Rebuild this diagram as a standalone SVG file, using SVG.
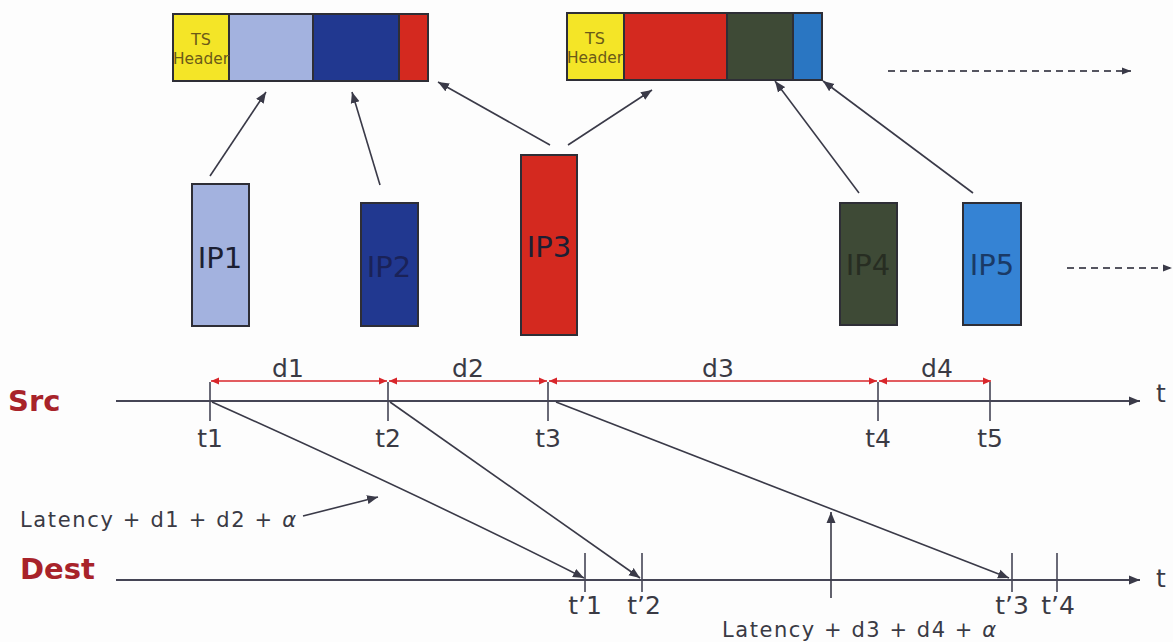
<svg xmlns="http://www.w3.org/2000/svg" width="1173" height="642" viewBox="0 0 1173 642">
<defs>
<marker id="arr" markerUnits="userSpaceOnUse" markerWidth="12" markerHeight="10" refX="11" refY="5" orient="auto">
<path d="M0,0.5 L11,5 L0,9.5 z" fill="#3a3a48"/>
</marker>
<marker id="arrs" markerUnits="userSpaceOnUse" markerWidth="10" markerHeight="8" refX="9" refY="4" orient="auto">
<path d="M0,0.5 L9,4 L0,7.5 z" fill="#3a3a48"/>
</marker>
<marker id="red" markerUnits="userSpaceOnUse" markerWidth="9" markerHeight="8" refX="8" refY="4" orient="auto-start-reverse">
<path d="M0,0.5 L8,4 L0,7.5 z" fill="#d8262b"/>
</marker>
</defs>
<style>
.bx{stroke:#2e2e36;stroke-width:2}
.ip{font-family:"DejaVu Sans",Verdana,sans-serif;font-size:29px;fill:#1c1f33;text-anchor:middle}
.ts{font-family:"DejaVu Sans",Verdana,sans-serif;font-size:16px;fill:#6b5a18;text-anchor:middle}
.ln{stroke:#3a3a48;stroke-width:1.6;fill:none}
.ax{stroke:#454555;stroke-width:1.8;fill:none}
.tk{stroke:#454555;stroke-width:1.6}
.dim{stroke:#d8262b;stroke-width:1.6;fill:none}
.lb{font-family:"DejaVu Sans",Verdana,sans-serif;font-size:25px;fill:#3a3a44;text-anchor:middle}
.sd{font-family:"DejaVu Sans",Verdana,sans-serif;font-size:29px;font-weight:bold;fill:#a8232a}
.lat{font-family:"DejaVu Sans",Verdana,sans-serif;font-size:21px;fill:#3a3a44}
.dash{stroke:#555560;stroke-width:2;stroke-dasharray:7 5;fill:none}
</style>
<rect width="1173" height="642" fill="#fdfdfd"/>
<g id="packet1">
<rect x="173" y="14" width="56" height="67" fill="#f4e527" class="bx"/>
<rect x="229" y="14" width="84" height="67" fill="#a3b2df" class="bx"/>
<rect x="313" y="14" width="86" height="67" fill="#213890" class="bx"/>
<rect x="399" y="14" width="29" height="67" fill="#d4291f" class="bx"/>
<text class="ts" x="201" y="45">TS</text>
<text class="ts" x="201" y="64" textLength="56" lengthAdjust="spacingAndGlyphs">Header</text>
</g>
<g id="packet2">
<rect x="567" y="13" width="57" height="67" fill="#f4e527" class="bx"/>
<rect x="624" y="13" width="103" height="67" fill="#d4291f" class="bx"/>
<rect x="727" y="13" width="66" height="67" fill="#3e4a36" class="bx"/>
<rect x="793" y="13" width="29" height="67" fill="#2a76c2" class="bx"/>
<text class="ts" x="595" y="44">TS</text>
<text class="ts" x="595" y="63" textLength="56" lengthAdjust="spacingAndGlyphs">Header</text>
</g>
<g id="IP1">
<rect x="192" y="184" width="57" height="142" fill="#a3b2df" class="bx"/>
<text class="ip" x="220" y="268">IP1</text>
</g>
<g id="IP2">
<rect x="361" y="203" width="57" height="123" fill="#213890" class="bx"/>
<text class="ip" x="389" y="277" style="fill:#1a2258">IP2</text>
</g>
<g id="IP3">
<rect x="521" y="155" width="56" height="180" fill="#d4291f" class="bx"/>
<text class="ip" x="549" y="257">IP3</text>
</g>
<g id="IP4">
<rect x="840" y="203" width="57" height="122" fill="#3e4a36" class="bx"/>
<text class="ip" x="868" y="275" style="fill:#272d22">IP4</text>
</g>
<g id="IP5">
<rect x="963" y="203" width="58" height="122" fill="#3583d4" class="bx"/>
<text class="ip" x="992" y="275" style="fill:#1a3a66">IP5</text>
</g>
<g id="connectors">
<line class="ln" x1="210" y1="176" x2="266" y2="92" marker-end="url(#arr)"/>
<line class="ln" x1="380" y1="185" x2="352" y2="92" marker-end="url(#arr)"/>
<line class="ln" x1="550" y1="145" x2="438" y2="82" marker-end="url(#arr)"/>
<line class="ln" x1="568" y1="145" x2="652" y2="90" marker-end="url(#arr)"/>
<line class="ln" x1="859" y1="193" x2="775" y2="81" marker-end="url(#arr)"/>
<line class="ln" x1="973" y1="193" x2="823" y2="81" marker-end="url(#arr)"/>
<line class="dash" x1="888" y1="71" x2="1131" y2="71" marker-end="url(#arrs)"/>
<line class="dash" x1="1067" y1="268" x2="1172" y2="268" marker-end="url(#arrs)"/>
</g>
<g id="src-axis">
<text class="sd" x="8" y="411">Src</text>
<line class="ax" x1="116" y1="401" x2="1140" y2="401" marker-end="url(#arr)"/>
<text class="lb" x="1161" y="402">t</text>
<line class="tk" x1="210" y1="382" x2="210" y2="421"/>
<line class="tk" x1="388" y1="382" x2="388" y2="421"/>
<line class="tk" x1="548" y1="382" x2="548" y2="421"/>
<line class="tk" x1="878" y1="382" x2="878" y2="421"/>
<line class="tk" x1="990" y1="382" x2="990" y2="421"/>
<text class="lb" x="210" y="447">t1</text>
<text class="lb" x="388" y="447">t2</text>
<text class="lb" x="548" y="447">t3</text>
<text class="lb" x="878" y="447">t4</text>
<text class="lb" x="990" y="447">t5</text>
<line class="dim" x1="211" y1="381" x2="387" y2="381" marker-start="url(#red)" marker-end="url(#red)"/>
<line class="dim" x1="389" y1="381" x2="547" y2="381" marker-start="url(#red)" marker-end="url(#red)"/>
<line class="dim" x1="549" y1="381" x2="877" y2="381" marker-start="url(#red)" marker-end="url(#red)"/>
<line class="dim" x1="879" y1="381" x2="991" y2="381" marker-start="url(#red)" marker-end="url(#red)"/>
<text class="lb" x="288" y="377">d1</text>
<text class="lb" x="468" y="377">d2</text>
<text class="lb" x="718" y="377">d3</text>
<text class="lb" x="937" y="377">d4</text>
</g>
<g id="dest-axis">
<text class="sd" x="20" y="579">Dest</text>
<line class="ax" x1="116" y1="580" x2="1140" y2="580" marker-end="url(#arr)"/>
<text class="lb" x="1161" y="587">t</text>
<line class="tk" x1="585" y1="553" x2="585" y2="592"/>
<line class="tk" x1="642" y1="553" x2="642" y2="592"/>
<line class="tk" x1="1012" y1="553" x2="1012" y2="592"/>
<line class="tk" x1="1057" y1="553" x2="1057" y2="592"/>
<text class="lb" x="585" y="614">t’1</text>
<text class="lb" x="644" y="614">t’2</text>
<text class="lb" x="1012" y="614">t’3</text>
<text class="lb" x="1058" y="614">t’4</text>
</g>
<g id="latency">
<path class="ln" d="M212,402 Q430,500 584,578" marker-end="url(#arr)"/>
<line class="ln" x1="390" y1="402" x2="640" y2="578" marker-end="url(#arr)"/>
<line class="ln" x1="556" y1="402" x2="1009" y2="578" marker-end="url(#arr)"/>
<text class="lat" x="20" y="527" textLength="276">Latency + d1 + d2 + <tspan font-style="italic">α</tspan></text>
<line class="ln" x1="303" y1="516" x2="378" y2="497" marker-end="url(#arr)"/>
<line class="ln" x1="831" y1="598" x2="831" y2="512" marker-end="url(#arr)"/>
<text class="lat" x="722" y="637" textLength="274">Latency + d3 + d4 + <tspan font-style="italic">α</tspan></text>
</g>
</svg>
